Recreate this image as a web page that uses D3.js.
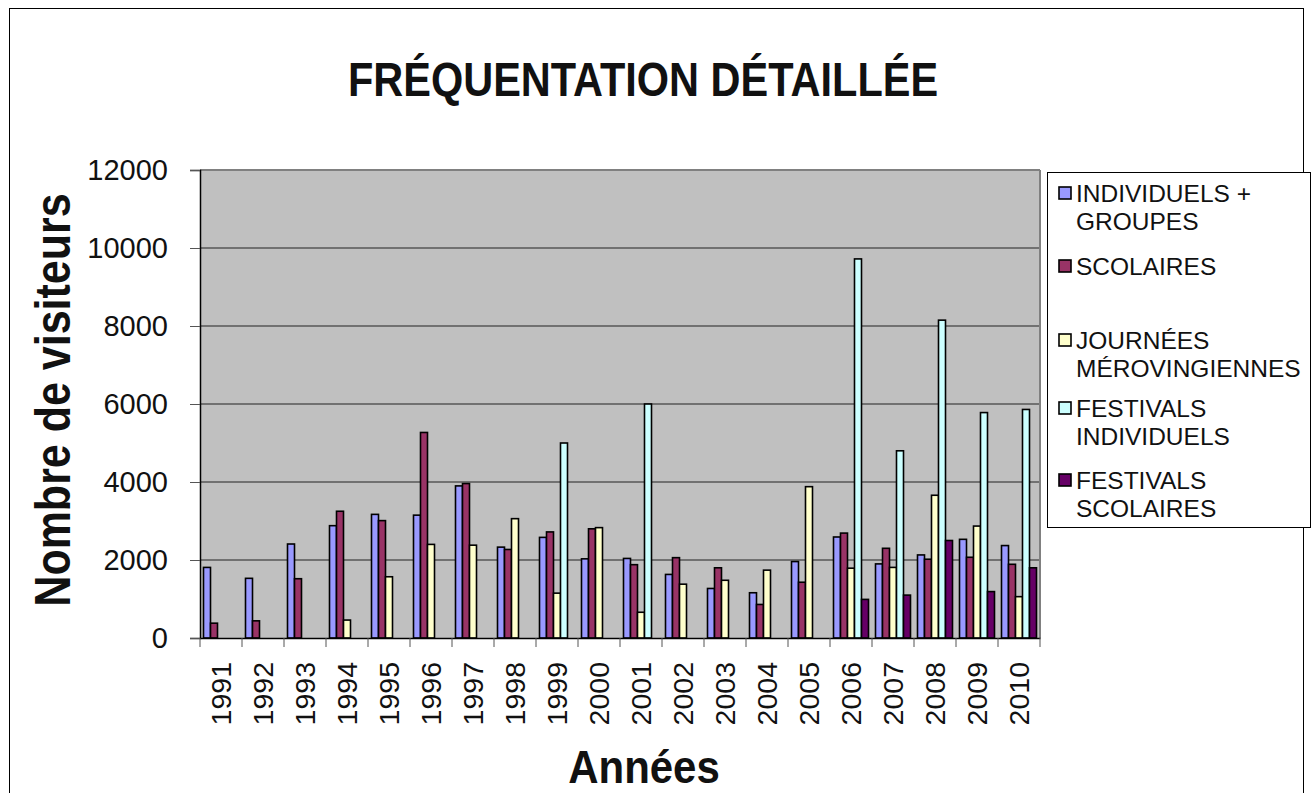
<!DOCTYPE html>
<html>
<head>
<meta charset="utf-8">
<script src="https://cdn.jsdelivr.net/npm/d3@7"></script>
<style>
  body { margin: 0; background: #fff; }
  svg { display: block; font-family: 'Liberation Sans', Arial, sans-serif; }
</style>
</head>
<body>
<div id="chart"></div>
<script>
'use strict';

var width = 1312;
var height = 793;

var years = ['1991', '1992', '1993', '1994', '1995', '1996', '1997', '1998', '1999', '2000',
  '2001', '2002', '2003', '2004', '2005', '2006', '2007', '2008', '2009', '2010'];

var seriesNames = [
  ['INDIVIDUELS +', 'GROUPES'],
  ['SCOLAIRES'],
  ['JOURNÉES', 'MÉROVINGIENNES'],
  ['FESTIVALS', 'INDIVIDUELS'],
  ['FESTIVALS', 'SCOLAIRES']
];

var individuels = [1810, 1530, 2410, 2880, 3170, 3150, 3900, 2330, 2580, 2030,
  2040, 1630, 1270, 1160, 1960, 2590, 1900, 2130, 2530, 2370];
var scolaires = [380, 440, 1520, 3250, 3010, 5270, 3960, 2270, 2720, 2800,
  1880, 2060, 1800, 860, 1430, 2690, 2300, 2020, 2070, 1890];
var journees = [null, null, null, 460, 1570, 2400, 2380, 3060, 1150, 2830,
  660, 1380, 1480, 1740, 3880, 1790, 1810, 3660, 2870, 1060];
var festivalsInd = [null, null, null, null, null, null, null, null, 5000, null,
  6000, null, null, null, null, 9720, 4800, 8150, 5780, 5860];
var festivalsSco = [null, null, null, null, null, null, null, null, null, null,
  null, null, null, null, null, 990, 1100, 2500, 1190, 1800];

var yTicks = [0, 2000, 4000, 6000, 8000, 10000, 12000];

var colors = ['#9999ff', '#993366', '#ffffcc', '#ccffff', '#660066'];
var allSeries = [individuels, scolaires, journees, festivalsInd, festivalsSco];

var plot = { left: 200, top: 170, right: 1040, bottom: 638 };

var svg = d3.select('#chart').append('svg')
  .attr('width', width)
  .attr('height', height);

svg.append('rect')
  .attr('x', 9.5).attr('y', 8.5)
  .attr('width', 1294).attr('height', 800)
  .attr('fill', '#fff')
  .attr('stroke', '#000')
  .attr('stroke-width', 1);

var x = d3.scaleBand()
  .domain(years)
  .range([plot.left, plot.right]);

var xInner = d3.scaleBand()
  .domain(d3.range(allSeries.length))
  .range([0, x.bandwidth()])
  .paddingOuter(0.5);

var y = d3.scaleLinear()
  .domain([0, 12000])
  .range([plot.bottom, plot.top]);

// plot area
svg.append('rect')
  .attr('x', plot.left).attr('y', plot.top)
  .attr('width', plot.right - plot.left).attr('height', plot.bottom - plot.top)
  .attr('fill', '#c0c0c0');

svg.append('g')
  .selectAll('line')
  .data(yTicks.slice(1))
  .enter().append('line')
  .attr('x1', plot.left).attr('x2', plot.right)
  .attr('y1', function (d) { return y(d); })
  .attr('y2', function (d) { return y(d); })
  .attr('stroke', function (d) { return d === 12000 ? '#808080' : '#222'; })
  .attr('stroke-width', function (d) { return d === 12000 ? 2 : 1; });

svg.append('line')
  .attr('x1', plot.right).attr('x2', plot.right)
  .attr('y1', plot.top).attr('y2', plot.bottom)
  .attr('stroke', '#808080').attr('stroke-width', 2);

// bars
allSeries.forEach(function (values, si) {
  svg.append('g')
    .selectAll('rect')
    .data(values.map(function (v, i) { return { year: years[i], v: v }; })
      .filter(function (d) { return d.v; }))
    .enter().append('rect')
    .attr('x', function (d) { return x(d.year) + xInner(si); })
    .attr('y', function (d) { return y(d.v); })
    .attr('width', xInner.bandwidth())
    .attr('height', function (d) { return y(0) - y(d.v); })
    .attr('fill', colors[si])
    .attr('stroke', '#000')
    .attr('stroke-width', 1.6);
});

// axes
var yAxis = svg.append('g')
  .attr('transform', 'translate(' + plot.left + ',0)')
  .call(d3.axisLeft(y).tickValues(yTicks).tickSize(10).tickPadding(22)
    .tickFormat(d3.format('d')));
yAxis.select('.domain').attr('stroke', '#000').attr('stroke-width', 1.5);
yAxis.selectAll('.tick line').attr('stroke', '#555');
yAxis.selectAll('.tick text')
  .attr('font-size', 29)
  .attr('fill', '#111')
  .attr('font-family', "'Liberation Sans', Arial, sans-serif");

var xAxis = svg.append('g')
  .attr('transform', 'translate(0,' + plot.bottom + ')')
  .call(d3.axisBottom(x).tickSize(0).tickFormat(''));
xAxis.select('.domain').attr('stroke', '#000').attr('stroke-width', 1.5);

svg.append('g')
  .selectAll('line')
  .data(years.concat(['end']))
  .enter().append('line')
  .attr('x1', function (d, i) { return plot.left + i * x.step(); })
  .attr('x2', function (d, i) { return plot.left + i * x.step(); })
  .attr('y1', plot.bottom).attr('y2', plot.bottom + 9)
  .attr('stroke', '#555');

svg.append('g')
  .selectAll('text')
  .data(years)
  .enter().append('text')
  .attr('transform', function (d) {
    return 'translate(' + (x(d) + x.bandwidth() / 2) + ',662) rotate(-90)';
  })
  .attr('text-anchor', 'end')
  .attr('dominant-baseline', 'central')
  .attr('font-size', 28.5)
  .attr('fill', '#111')
  .text(function (d) { return d; });

// titles
svg.append('text')
  .attr('transform', 'translate(643,96) scale(1,1.15)')
  .attr('text-anchor', 'middle')
  .attr('font-size', 41.5)
  .attr('font-weight', 'bold')
  .attr('fill', '#111')
  .text('FRÉQUENTATION DÉTAILLÉE');

svg.append('text')
  .attr('transform', 'translate(644,783) scale(1,1.1)')
  .attr('text-anchor', 'middle')
  .attr('font-size', 42)
  .attr('font-weight', 'bold')
  .attr('fill', '#111')
  .text('Années');

svg.append('text')
  .attr('transform', 'translate(53,400) rotate(-90) scale(1,1.15)')
  .attr('text-anchor', 'middle')
  .attr('dominant-baseline', 'central')
  .attr('font-size', 43)
  .attr('font-weight', 'bold')
  .attr('fill', '#111')
  .text('Nombre de visiteurs');

// legend
var legend = svg.append('g');
legend.append('rect')
  .attr('x', 1047.5).attr('y', 172.5)
  .attr('width', 263).attr('height', 355)
  .attr('fill', '#fff')
  .attr('stroke', '#000');

var rowY = [193, 266, 340, 408, 480];
seriesNames.forEach(function (lines, i) {
  legend.append('rect')
    .attr('x', 1059).attr('y', rowY[i] - 6)
    .attr('width', 12).attr('height', 12)
    .attr('fill', colors[i])
    .attr('stroke', '#000')
    .attr('stroke-width', 1.6);
  lines.forEach(function (t, j) {
    legend.append('text')
      .attr('x', 1076)
      .attr('y', rowY[i] + j * 28)
      .attr('dominant-baseline', 'central')
      .attr('font-size', 24.5)
      .attr('fill', '#111')
      .text(t);
  });
});
</script>
</body>
</html>
